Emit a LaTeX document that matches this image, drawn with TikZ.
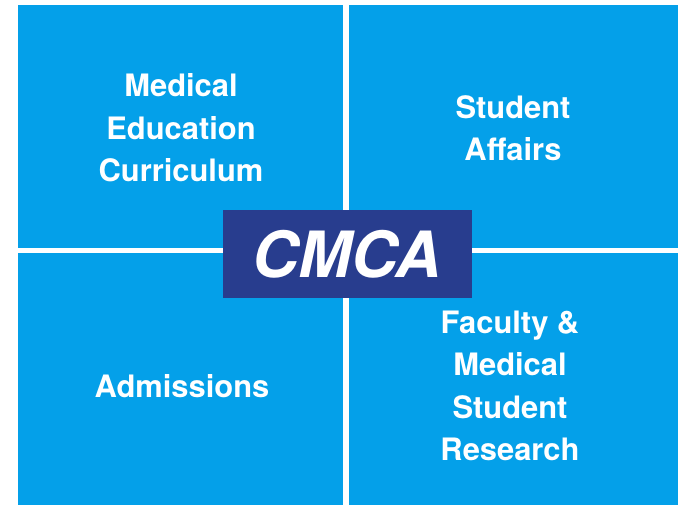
\documentclass[tikz,border=0pt]{standalone}
\usepackage{fontspec}
\setmainfont{TeX Gyre Heros}
\definecolor{lightblue}{HTML}{04A0E9}
\definecolor{darkblue}{HTML}{283D8E}

\begin{document}
\begin{tikzpicture}[x=1bp, y=-1bp,
	area/.style={rectangle, fill=lightblue, inner sep=0pt},
	areatext/.style={text=white, font=\fontsize{31}{42.5}\selectfont\bfseries, align=center},
	hub/.style={rectangle, fill=darkblue, inner sep=0pt, minimum width=249bp, minimum height=87bp, text=white, font=\fontsize{64}{70}\selectfont\bfseries\itshape}]
				\useasboundingbox (0,0) rectangle (679,508);
				\node[area, minimum width=325bp, minimum height=243bp] (TL)at(180.5, 126.5) {};
				\node[area, minimum width=329bp, minimum height=243bp] (TR)at(513.5, 126.5) {};
				\node[area, minimum width=325bp, minimum height=252bp] (BL)at(180.5, 379) {};
				\node[area, minimum width=329bp, minimum height=252bp] (BR)at(513.5, 379) {};
				\node[areatext] (curriculum)at(181, 128) {Medical\\Education\\Curriculum};
				\node[areatext] (affairs)at(513, 128) {Student\\Affairs};
				\node[areatext] (admissions)at(182, 386) {Admissions};
				\node[areatext] (research)at(510, 386) {Faculty \&\\Medical\\Student\\Research};
				\node[hub] (CMCA)at(347, 254) {CMCA};
			\end{tikzpicture}
\end{document}
